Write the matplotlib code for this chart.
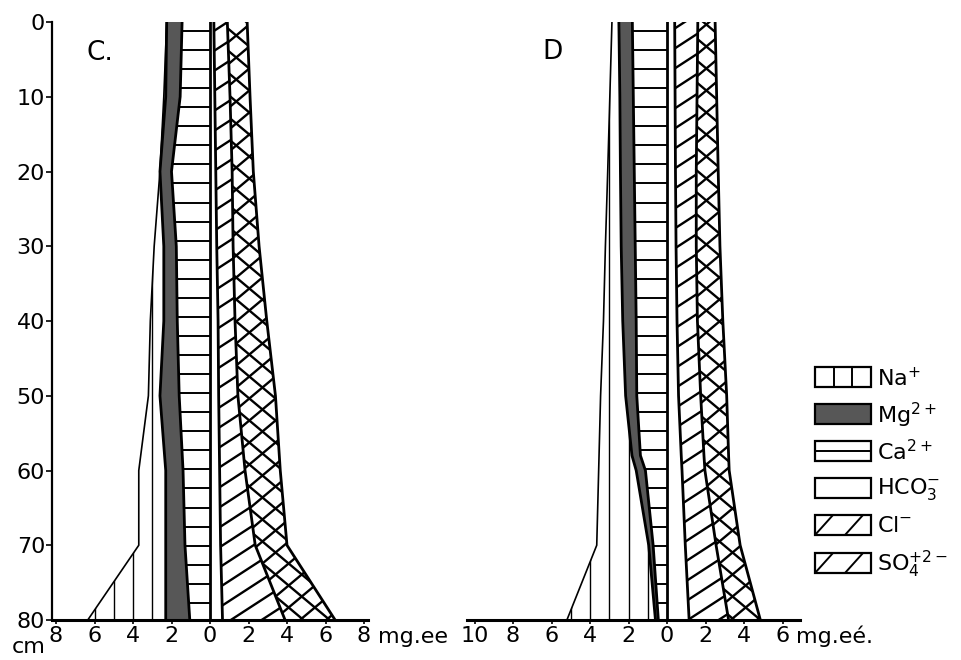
import numpy as np
import matplotlib
matplotlib.use("Agg")
import matplotlib.pyplot as plt
from matplotlib.patches import Polygon, Rectangle

###############################################################################
# Data (mg-equivalents per ion, depth in cm)

depth_c = [0, 10, 20, 30, 40, 50, 60, 70, 80]
na_c = [0.0, 0.1, 0.0, 0.5, 0.7, 0.6, 1.4, 1.4, 4.05]
mg_c = [0.8, 0.75, 0.6, 0.65, 0.7, 1.0, 0.9, 1.0, 1.25]
ca_c = [1.45, 1.55, 2.0, 1.75, 1.7, 1.6, 1.4, 1.3, 1.05]
hco3_c = [0.2, 0.25, 0.3, 0.35, 0.42, 0.45, 0.5, 0.55, 0.65]
cl_c = [0.7, 0.79, 0.85, 0.85, 0.88, 1.0, 1.32, 1.8, 3.25]
so4_c = [1.03, 1.04, 1.1, 1.35, 1.65, 1.95, 1.83, 1.65, 2.6]

depth_d = [0, 10, 20, 30, 40, 50, 58, 60, 70, 80]
na_d = [0.36, 0.52, 0.66, 0.82, 1.0, 1.3, 1.71, 1.95, 2.7, 4.6]
mg_d = [0.7, 0.7, 0.72, 0.73, 0.7, 0.58, 0.44, 0.48, 0.23, 0.15]
ca_d = [1.8, 1.75, 1.7, 1.65, 1.6, 1.57, 1.38, 1.12, 0.72, 0.45]
hco3_d = [0.4, 0.42, 0.44, 0.47, 0.52, 0.6, 0.74, 0.78, 0.95, 1.15]
cl_d = [1.2, 1.14, 1.08, 1.05, 1.06, 1.15, 1.18, 1.19, 1.6, 2.05]
so4_d = [0.9, 1.02, 1.14, 1.23, 1.32, 1.35, 1.28, 1.26, 1.25, 1.65]

depth_ticks = [0, 10, 20, 30, 40, 50, 60, 70, 80]
xticks_c = [-8, -6, -4, -2, 0, 2, 4, 6, 8]
xticks_d = [-10, -8, -6, -4, -2, 0, 2, 4, 6]

legend_labels = ["Na$^{+}$", "Mg$^{2+}$", "Ca$^{2+}$",
                 "HCO$_3^{-}$", "Cl$^{-}$", "SO$_4^{+2-}$"]

###############################################################################
# Layout (pixels of a 961 x 660 canvas)

W, H = 961, 660
PX_X = 19.25   # px per mg-eq
PX_Y = 7.475   # px per cm
TOP, BOTTOM = 22, 620

plt.rcParams["font.family"] = "DejaVu Sans"
FS = 16

fig = plt.figure(figsize=(W / 100, H / 100), dpi=100)


def make_axes(left_px, right_px, zero_px):
    ax = fig.add_axes([left_px / W, 1 - BOTTOM / H,
                       (right_px - left_px) / W, (BOTTOM - TOP) / H])
    ax.set_xlim((left_px - zero_px) / PX_X, (right_px - zero_px) / PX_X)
    ax.set_ylim(80, 0)
    return ax


def region(ax, left, right, depth, **kw):
    verts = list(zip(right, depth)) + list(zip(left[::-1], depth[::-1]))
    p = Polygon(verts, closed=True, **kw)
    ax.add_patch(p)
    return p


def clip_lines(ax, patch, xs, ys_list, lw):
    for ys in ys_list:
        ln, = ax.plot(xs, ys, color="k", lw=lw, solid_capstyle="butt", zorder=1)
        ln.set_clip_path(patch)


def diag_hatch(ax, patch, angle, step_px, lw):
    slope = PX_X * np.tan(np.radians(angle)) / PX_Y
    xs = np.array([-12.0, 10.0])
    ys = [c - slope * xs for c in np.arange(-60, 160, step_px / PX_Y)]
    clip_lines(ax, patch, xs, ys, lw)


def profile(ax, depth, na, mg, ca, hco3, cl, so4):
    depth = np.array(depth, float)
    zero = np.zeros_like(depth)
    ca_e = -np.array(ca)
    mg_e = ca_e - np.array(mg)
    na_e = mg_e - np.array(na)
    hc_e = np.array(hco3)
    cl_e = hc_e + np.array(cl)
    so_e = cl_e + np.array(so4)

    # Na+: vertical lines
    p_na = region(ax, na_e, mg_e, depth, fc="none", ec="none")
    for x in np.arange(-1, -12, -1.0):
        ln, = ax.plot([x, x], [0, 80], color="k", lw=1.0, zorder=1)
        ln.set_clip_path(p_na)
    # Mg2+: dark fill
    region(ax, mg_e, ca_e, depth, fc="#575757", ec="none", zorder=2)
    # Ca2+: horizontal lines
    p_ca = region(ax, ca_e, zero, depth, fc="none", ec="none")
    for d in np.arange(1.2, 80, 2.55):
        ln, = ax.plot([-12, 0], [d, d], color="k", lw=1.4, zorder=1)
        ln.set_clip_path(p_ca)
    # Cl-: single diagonal hatch
    p_cl = region(ax, hc_e, cl_e, depth, fc="none", ec="none")
    diag_hatch(ax, p_cl, 33, 20, 1.7)
    # SO4: cross hatch
    p_so = region(ax, cl_e, so_e, depth, fc="none", ec="none")
    diag_hatch(ax, p_so, 40, 22, 1.7)
    diag_hatch(ax, p_so, -40, 22, 1.7)

    # boundaries
    ax.plot(na_e, depth, color="k", lw=1.2, zorder=3)
    for e in (mg_e, ca_e, zero, hc_e, cl_e, so_e):
        ax.plot(e, depth, color="k", lw=2.0, zorder=3)


def style(ax, xticks, show_y):
    for s in ("top", "right"):
        ax.spines[s].set_visible(False)
    ax.spines["bottom"].set_linewidth(2.2)
    ax.spines["bottom"].set_zorder(4)
    ax.set_xticks(xticks)
    ax.set_xticklabels([str(abs(t)) for t in xticks], fontsize=FS)
    ax.tick_params(axis="x", direction="out", length=3, width=1.2, pad=1)
    if show_y:
        ax.spines["left"].set_linewidth(1.6)
        ax.set_yticks(depth_ticks)
        ax.set_yticklabels([str(t) for t in depth_ticks], fontsize=FS)
        ax.tick_params(axis="y", direction="out", length=4, width=1.2, pad=1)
    else:
        ax.spines["left"].set_visible(False)
        ax.set_yticks([])


ax_c = make_axes(52, 368, 210)
profile(ax_c, depth_c, na_c, mg_c, ca_c, hco3_c, cl_c, so4_c)
style(ax_c, xticks_c, True)
ax_c.set_xlim((52 - 210) / PX_X, (368 - 210) / PX_X)
ax_c.set_ylim(80, 0)

ax_d = make_axes(467, 800, 667)
profile(ax_d, depth_d, na_d, mg_d, ca_d, hco3_d, cl_d, so4_d)
style(ax_d, xticks_d, False)
ax_d.set_xlim((467 - 667) / PX_X, (800 - 667) / PX_X)
ax_d.set_ylim(80, 0)

###############################################################################
# Free text and legend on a pixel-based overlay

ov = fig.add_axes([0, 0, 1, 1], zorder=5)
ov.set_xlim(0, W)
ov.set_ylim(H, 0)
ov.axis("off")
ov.patch.set_alpha(0)

ov.text(86, 53, "C.", fontsize=19, va="center", ha="left")
ov.text(542, 52, "D", fontsize=19, va="center", ha="left")
ov.text(12, 647, "cm", fontsize=FS, va="center", ha="left")
ov.text(378, 643, "mg.ee", fontsize=FS, va="baseline", ha="left")
ov.text(796, 643, "mg.eé.", fontsize=FS, va="baseline", ha="left")

bx, bw, bh = 815, 56, 20
tops = [367, 404, 441, 478, 515, 553]
for i, (top, lab) in enumerate(zip(tops, legend_labels)):
    fc = "#575757" if i == 1 else "white"
    box = Rectangle((bx, top), bw, bh, fc=fc, ec="k", lw=1.6, zorder=3)
    ov.add_patch(box)
    if i == 0:
        for x in (bx + bw / 3, bx + 2 * bw / 3):
            ov.plot([x, x], [top, top + bh], color="k", lw=1.4, zorder=4)
    elif i == 2:
        ov.plot([bx, bx + bw], [top + bh / 2] * 2, color="k", lw=1.4, zorder=4)
    elif i >= 4:
        for x0 in (bx, bx + 30):
            ln, = ov.plot([x0, x0 + 18], [top + bh, top], color="k", lw=1.4, zorder=4)
            ln.set_clip_path(box)
    ov.text(bx + bw + 6, top + bh / 2 + 1, lab, fontsize=FS, va="center", ha="left")

fig.savefig("out.png", dpi=100)
